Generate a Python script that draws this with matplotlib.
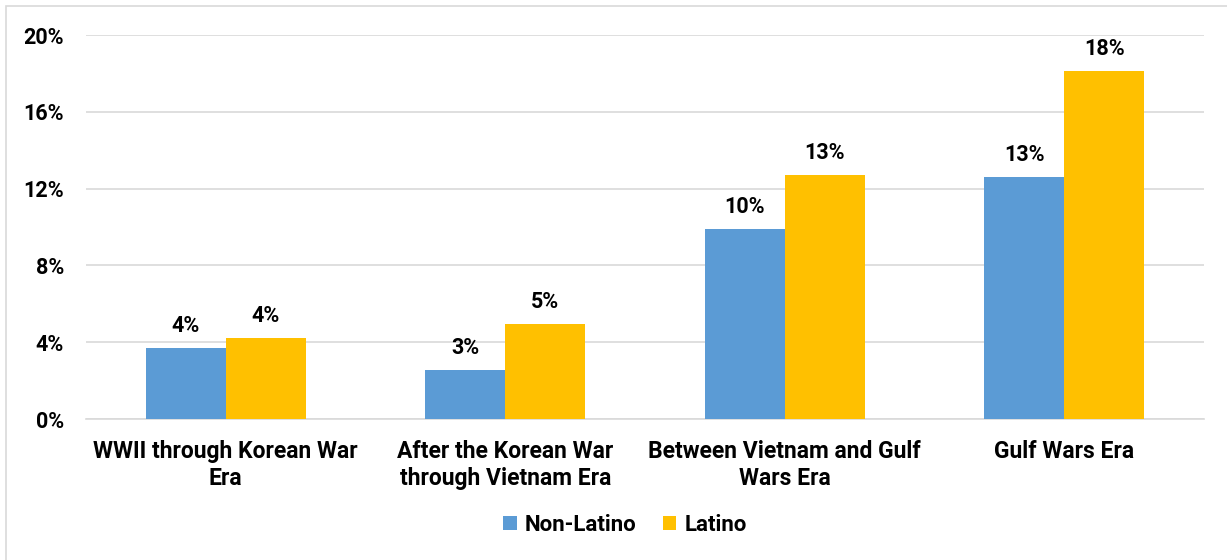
import numpy as np
import matplotlib.pyplot as plt
from matplotlib.patches import Rectangle
from matplotlib.ticker import FuncFormatter

plt.rcParams['font.family'] = ['Roboto', 'DejaVu Sans']

categories = ['WWII through Korean War\nEra',
              'After the Korean War\nthrough Vietnam Era',
              'Between Vietnam and Gulf\nWars Era',
              'Gulf Wars Era']
non_latino = [3.7, 2.55, 9.9, 12.6]
latino = [4.2, 4.95, 12.7, 18.1]
non_latino_labels = ['4%', '3%', '10%', '13%']
latino_labels = ['4%', '5%', '13%', '18%']

blue = '#5B9BD5'
gold = '#FFC000'
grid = '#D9D9D9'
fs = 15.5

fig = plt.figure(figsize=(12.27, 5.6), dpi=100)
ax = fig.add_axes([86 / 1227, 1 - 419 / 560, (1204 - 86) / 1227, (419 - 35) / 560])

# outer chart border
fig.patches.append(Rectangle((6 / 1227, -0.05), 1.1, 1 - 6 / 560 + 0.05,
                             transform=fig.transFigure, fill=False,
                             edgecolor=grid, linewidth=1.2))

x = np.arange(len(categories))
w = 0.286
b1 = ax.bar(x - w / 2, non_latino, w, color=blue, label='Non-Latino', zorder=3)
b2 = ax.bar(x + w / 2, latino, w, color=gold, label='Latino', zorder=3)

for bars, labs in [(b1, non_latino_labels), (b2, latino_labels)]:
    ax.bar_label(bars, labels=labs, padding=8, fontsize=fs, fontweight='bold')

ax.set_xlim(-0.5, len(categories) - 0.5)
ax.set_ylim(0, 20)
ax.set_yticks([0, 4, 8, 12, 16, 20])
ax.yaxis.set_major_formatter(FuncFormatter(lambda v, p: '%d%%' % v))
ax.set_xticks(x)
ax.set_xticklabels(categories, fontsize=16.5, fontweight='bold', linespacing=1.25)
ax.tick_params(axis='y', length=0, pad=16, labelsize=fs)
ax.tick_params(axis='x', length=0, pad=15)
for lab in ax.get_yticklabels():
    lab.set_fontweight('bold')

ax.yaxis.grid(True, color=grid, linewidth=1.2, zorder=0)
for s in ['top', 'right', 'left']:
    ax.spines[s].set_visible(False)
ax.spines['bottom'].set_color(grid)
ax.spines['bottom'].set_linewidth(1.2)

leg = ax.legend(loc='center', bbox_to_anchor=(625 / 1227, 1 - 525 / 560),
                bbox_transform=fig.transFigure, ncol=2, frameon=False,
                handlelength=0.6, handleheight=0.6, handletextpad=0.35,
                columnspacing=1.2, prop={'size': 16, 'weight': 'bold'})

fig.savefig('out.png', dpi=100)
